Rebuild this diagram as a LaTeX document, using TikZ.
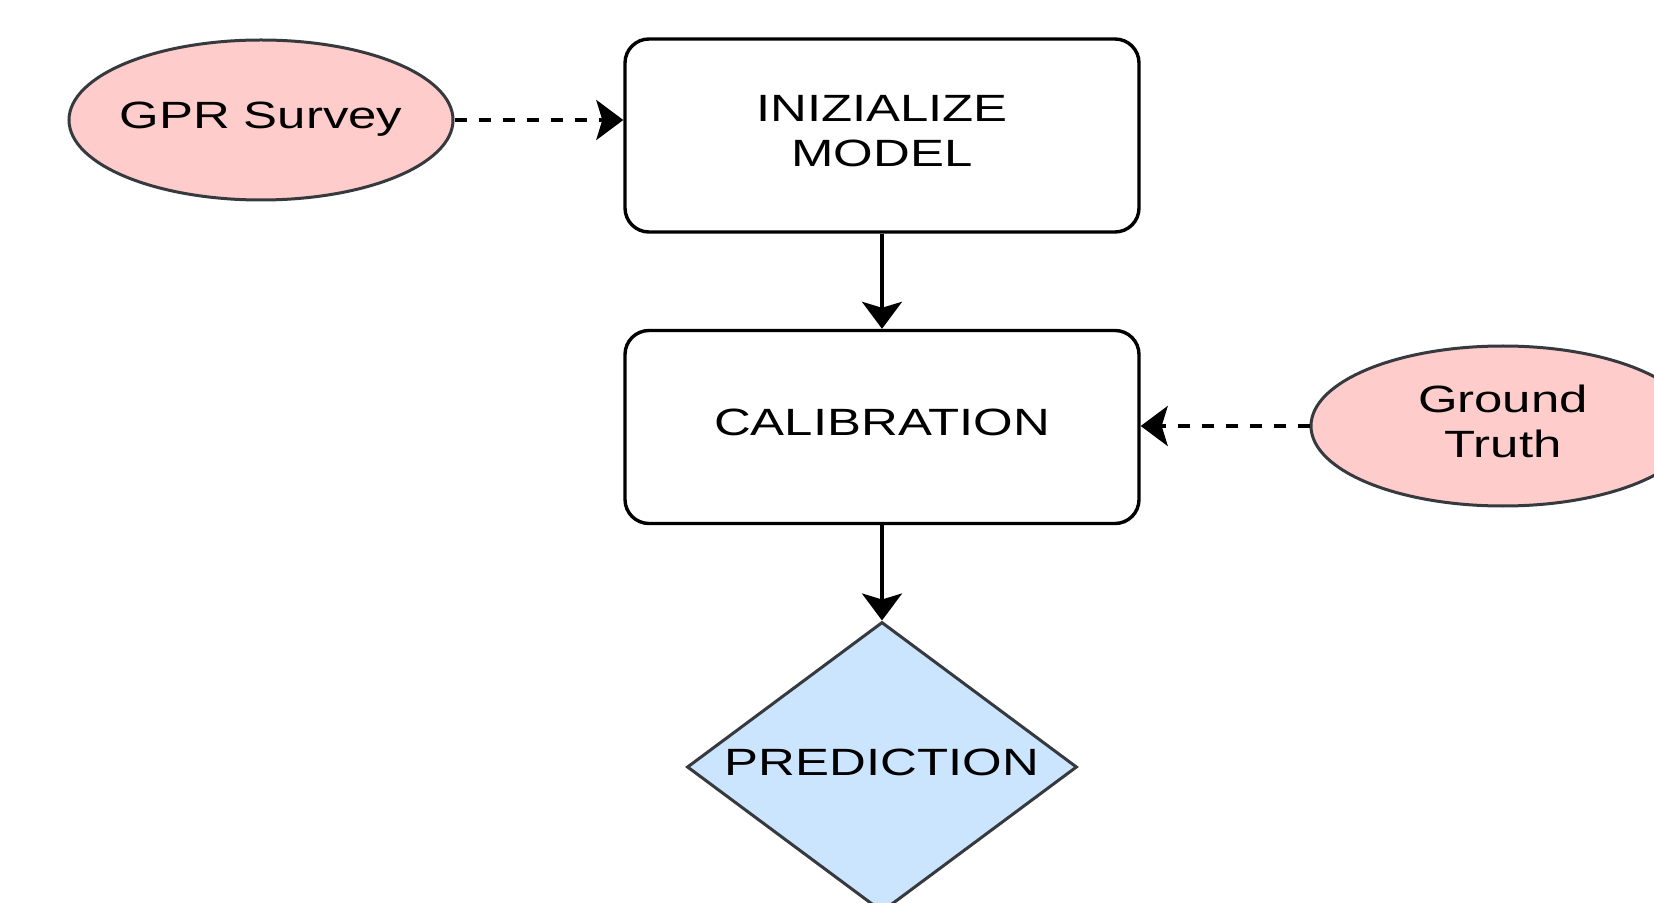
\documentclass[tikz,border=0pt]{standalone}
\usepackage{fontspec}
\usetikzlibrary{shapes.geometric,arrows.meta}
\newfontfamily\lblfont[FakeStretch=1.34]{Liberation Sans}
\definecolor{pinkfill}{HTML}{FFCCCC}
\definecolor{bluefill}{HTML}{CCE5FF}
\definecolor{shapeline}{HTML}{36393D}
\tikzset{
  lbl/.style={font=\lblfont\fontsize{19pt}{22.5pt}\selectfont, align=center,
    text=black, text depth=5pt},
  stepbox/.style={lbl, draw=black, line width=1.7pt, rounded corners=12pt,
    minimum width=257pt, minimum height=96.5pt, inner sep=0pt},
  source/.style={lbl, ellipse, draw=shapeline, fill=pinkfill, line width=1.5pt,
    minimum width=192pt, minimum height=80pt, inner xsep=-12pt, inner ysep=0pt},
  outcome/.style={lbl, diamond, shape aspect=1.5, draw=shapeline, fill=bluefill,
    line width=1.5pt, minimum width=195pt, minimum height=145pt, inner sep=0pt},
  tip/.style={-{Stealth[length=13.5pt, width=20pt, inset=3pt]}},
  flow/.style={tip, line width=1.7pt, draw=black},
  feed/.style={tip, line width=1.7pt, draw=black, dash pattern=on 6pt off 6pt}
}
\begin{document}
\begin{tikzpicture}[x=0.5pt, y=-0.5pt]
  \useasboundingbox (0,0) rectangle (1654,903);
  \clip (0,0) rectangle (1654,903);
  \fill[white] (0,0) rectangle (1654,903);

  % process steps
  \node[stepbox] (init) at (882,135.5) {INIZIALIZE\\MODEL};
  \node[stepbox] (calib) at (882,427) {CALIBRATION};
  \node[outcome] (pred) at (882,767) {PREDICTION};

  % data sources
  \node[source] (gpr) at (261,120) {GPR Survey};
  \node[source] (truth) at (1503,426) {Ground\\Truth};

  % connectors
  \draw[flow] (init.south) -- (calib.north);
  \draw[flow] (calib.south) -- (pred.north);
  \draw[feed] (gpr.east) -- (gpr.east -| init.west);
  \draw[feed] (truth.west) -- (truth.west -| calib.east);
\end{tikzpicture}
\end{document}
